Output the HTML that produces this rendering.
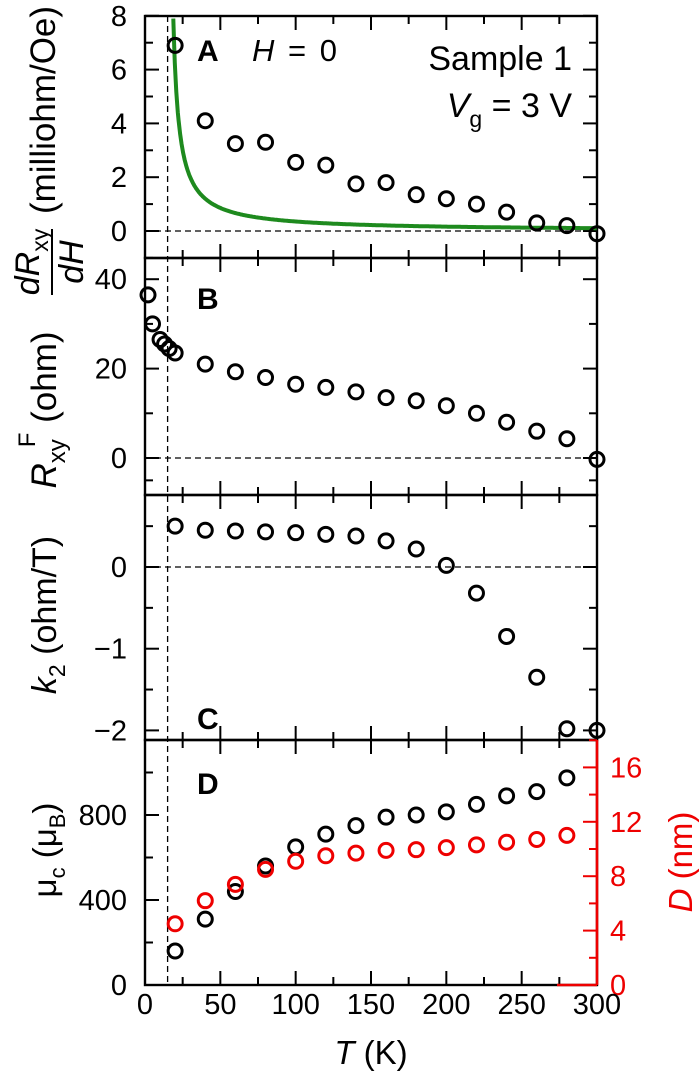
<!DOCTYPE html>
<html><head><meta charset="utf-8"><style>
body{margin:0;background:#fff}
svg{display:block;font-family:"Liberation Sans",Arial,sans-serif}
</style></head><body>
<svg id="s" width="700" height="1080" xmlns="http://www.w3.org/2000/svg"></svg>
<script>
const s=document.getElementById('s');let h='';
const L=145,R=597;const X=t=>L+(R-L)*t/300;
const P=[
 {t:16,b:258,f:v=>231-26.9*v,maj:[0,2,4,6,8],min:[-1,1,3,5,7]},
 {t:258,b:495,f:v=>458-4.47*v,maj:[0,20,40],min:[-5,10,30]},
 {t:495,b:740,f:v=>567-81.7*v,maj:[0,-1,-2],min:[0.5,-0.5,-1.5]},
 {t:740,b:985,f:v=>985-0.2125*v,maj:[0,400,800],min:[200,600,1000]}];
h+=`<line x1="${X(15)}" y1="16" x2="${X(15)}" y2="985" stroke="#000" stroke-width="1.3" stroke-dasharray="6,4"/>`;
[0,1,2].forEach(i=>{const y=P[i].f(0);h+=`<line x1="${L}" y1="${y}" x2="${R}" y2="${y}" stroke="#000" stroke-width="1.3" stroke-dasharray="6,4"/>`});
P.forEach((p,i)=>{
 for(let t=0;t<=300;t+=25){const big=t%50==0,l=big?14:8,x=X(t);
  h+=`<line x1="${x}" y1="${p.b}" x2="${x}" y2="${p.b-l}" stroke="#000" stroke-width="2"/>`;
  h+=`<line x1="${x}" y1="${p.t}" x2="${x}" y2="${p.t+l}" stroke="#000" stroke-width="2"/>`;}
 p.maj.forEach(v=>{const y=p.f(v);h+=`<line x1="${L}" y1="${y}" x2="${L+14}" y2="${y}" stroke="#000" stroke-width="2"/>`;
  if(i<3)h+=`<line x1="${R}" y1="${y}" x2="${R-14}" y2="${y}" stroke="#000" stroke-width="2"/>`;
  h+=`<text x="${L-18}" y="${y+10}" font-size="29" text-anchor="end">${String(v).replace('-','−')}</text>`;});
 p.min.forEach(v=>{const y=p.f(v);if(y<=p.t||y>=p.b)return;h+=`<line x1="${L}" y1="${y}" x2="${L+8}" y2="${y}" stroke="#000" stroke-width="2"/>`;
  if(i<3)h+=`<line x1="${R}" y1="${y}" x2="${R-8}" y2="${y}" stroke="#000" stroke-width="2"/>`;});
 h+=`<rect x="${L}" y="${p.t}" width="${R-L}" height="${p.b-p.t}" fill="none" stroke="#000" stroke-width="2.4"/>`;
});
const fr=v=>985-13.6*v;
h+=`<line x1="${R}" y1="740" x2="${R}" y2="985" stroke="#e00" stroke-width="2.6"/>`;
for(let v=0;v<=18;v+=2){const y=fr(v),l=v%4==0?14:8;h+=`<line x1="${R}" y1="${y}" x2="${R-l}" y2="${y}" stroke="#e00" stroke-width="2"/>`;
 if(v%4==0&&v<=16)h+=`<text x="${R+13}" y="${y+10}" font-size="29" fill="#e00">${v}</text>`;}
h+=`<line x1="${R-40}" y1="985" x2="${R}" y2="985" stroke="#e00" stroke-width="2.4"/>`;
for(let t=0;t<=300;t+=50)h+=`<text x="${X(t)}" y="1014" font-size="29" text-anchor="middle">${t}</text>`;
h+=`<text x="${X(150)}" y="1064" font-size="33" text-anchor="middle"><tspan font-style="italic">T</tspan> (K)</text>`;
let d='';for(let t=18.8;t<=300;t+=0.5){const v=30/(t-15);d+=(d?'L':'M')+X(t).toFixed(1)+','+P[0].f(v).toFixed(1);}
h+=`<path d="${d}" fill="none" stroke="#1e8a1e" stroke-width="4"/>`;
const pts=(i,arr,col)=>arr.forEach(([t,v])=>{h+=`<circle cx="${X(t)}" cy="${(i==4?fr:P[i].f)(v)}" r="7" fill="none" stroke="${col}" stroke-width="3"/>`});
pts(0,[[20,6.9],[40,4.1],[60,3.25],[80,3.3],[100,2.55],[120,2.45],[140,1.75],[160,1.8],[180,1.35],[200,1.2],[220,1.0],[240,0.7],[260,0.3],[280,0.2],[300,-0.1]],'#000');
pts(1,[[2,36.5],[5,30],[10,26.5],[13,25.5],[16,24.5],[20,23.5],[40,21],[60,19.3],[80,18],[100,16.5],[120,15.8],[140,14.8],[160,13.5],[180,12.8],[200,11.7],[220,10],[240,8],[260,6],[280,4.3],[300,-0.3]],'#000');
pts(2,[[20,0.5],[40,0.45],[60,0.44],[80,0.43],[100,0.42],[120,0.4],[140,0.38],[160,0.32],[180,0.22],[200,0.02],[220,-0.32],[240,-0.85],[260,-1.35],[280,-1.98],[300,-2.0]],'#000');
pts(3,[[20,160],[40,310],[60,440],[80,560],[100,650],[120,710],[140,750],[160,790],[180,800],[200,815],[220,850],[240,890],[260,910],[280,975]],'#000');
pts(4,[[20,4.5],[40,6.2],[60,7.4],[80,8.5],[100,9.1],[120,9.5],[140,9.7],[160,9.9],[180,9.95],[200,10.1],[220,10.3],[240,10.5],[260,10.7],[280,11.0]],'#e00');
h+=`<text x="197" y="61" font-size="30" font-weight="bold">A</text><text x="252" y="61" font-size="31" word-spacing="5"><tspan font-style="italic">H</tspan> = 0</text>`;
h+=`<text x="572" y="70" font-size="34" text-anchor="end">Sample 1</text>`;
h+=`<text x="572" y="117" font-size="34" text-anchor="end"><tspan font-style="italic">V</tspan><tspan font-size="23" dy="10">g</tspan><tspan dy="-10"> = 3 V</tspan></text>`;
h+=`<text x="197" y="309" font-size="30" font-weight="bold">B</text>`;
h+=`<text x="197" y="729" font-size="30" font-weight="bold">C</text>`;
h+=`<text x="197" y="794" font-size="30" font-weight="bold">D</text>`;
// y labels
h+=`<g transform="translate(55,110) rotate(-90)"><text x="0" y="0" font-size="35" text-anchor="middle">(milliohm/Oe)</text></g>`;
h+=`<g transform="translate(52,262) rotate(-90)"><text x="0" y="-13" font-size="34" font-style="italic" text-anchor="middle">dR<tspan font-size="23" font-style="normal" dy="9">xy</tspan></text>
<line x1="-33" y1="0" x2="33" y2="0" stroke="#000" stroke-width="2"/><text x="0" y="31" font-size="34" font-style="italic" text-anchor="middle">dH</text></g>`;
h+=`<g transform="translate(56,410) rotate(-90)"><text x="0" y="0" font-size="35" text-anchor="middle"><tspan font-style="italic">R</tspan><tspan font-size="24" dy="9">xy</tspan><tspan font-size="24" dy="-30" dx="-8">F</tspan><tspan dy="21"> (ohm)</tspan></text></g>`;
h+=`<g transform="translate(56,615) rotate(-90)"><text x="0" y="0" font-size="34" text-anchor="middle"><tspan font-style="italic">k</tspan><tspan font-size="23" dy="9">2</tspan><tspan dy="-9"> (ohm/T)</tspan></text></g>`;
h+=`<g transform="translate(56,850) rotate(-90)"><text x="0" y="0" font-size="33" text-anchor="middle">μ<tspan font-size="22" dy="9">c</tspan><tspan dy="-9"> (μ</tspan><tspan font-size="22" dy="9">B</tspan><tspan dy="-9">)</tspan></text></g>`;
h+=`<g transform="translate(692,862) rotate(-90)"><text x="0" y="0" font-size="33" fill="#e00" text-anchor="middle"><tspan font-style="italic">D</tspan> (nm)</text></g>`;
s.innerHTML=h;
</script>
</body></html>
